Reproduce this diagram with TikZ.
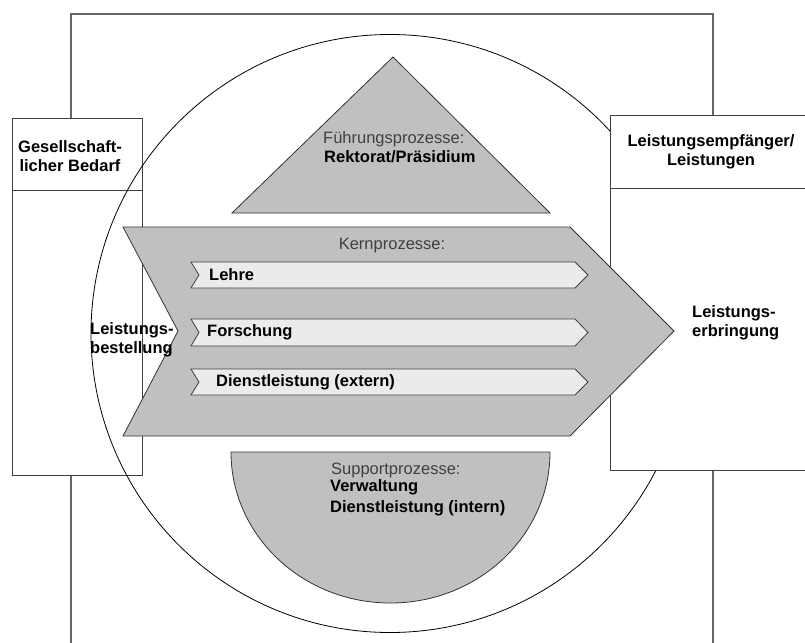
\documentclass[tikz,border=0pt]{standalone}
\usepackage{fontspec}
\setmainfont{Liberation Sans}
\definecolor{procgray}{RGB}{192,192,192}
\definecolor{barfill}{RGB}{235,235,235}
\begin{document}
\begin{tikzpicture}[x=1pt,y=-1pt,
  frame/.style={draw=black!60, line width=1.1pt},
  panel/.style={draw=black!75, line width=0.9pt, fill=white},
  ring/.style={draw=black, line width=0.8pt},
  proc/.style={draw=black!80, line width=0.8pt, fill=procgray},
  bar/.style={draw=black!75, line width=0.8pt, fill=barfill},
  bold/.style={font=\fontsize{16.5}{19}\selectfont\bfseries, inner sep=0pt},
  light/.style={font=\fontsize{16.5}{19}\selectfont, text=black!75, inner sep=0pt}]
\useasboundingbox (0,0) rectangle (805,642);
\clip (0,0) rectangle (805,642);

% outer frame (runs past the lower edge)
\draw[frame] (71,14) rectangle (713,660);

% left panel: demand
\draw[panel] (12,118) rectangle (142,475);
\draw[panel] (12,190) -- (142,190);

% university circle
\draw[ring] (390,333.5) circle[radius=299];

% right panel: recipients
\draw[panel] (610,115) rectangle (830,470);
\draw[panel] (610,188) -- (830,188);

% management triangle
\draw[proc] (393,57) -- (550,213) -- (232,213) -- cycle;

% core process chevron
\draw[proc] (123,227) -- (570,227) -- (674,331) -- (570,436) -- (123,436) -- (178,331) -- cycle;

% core process bars
\draw[bar] (191,262) -- (575,262) -- (588,275) -- (575,288) -- (191,288) -- (199,275) -- cycle;
\draw[bar] (191,319) -- (575,319) -- (588,332.5) -- (575,346) -- (191,346) -- (199,332.5) -- cycle;
\draw[bar] (191,369) -- (575,369) -- (588,382) -- (575,395) -- (191,395) -- (199,382) -- cycle;

% support half disc
\draw[proc] (231,452) -- (550,452) arc[start angle=0, end angle=180, x radius=159.5, y radius=151] -- cycle;

% labels
\node[bold, align=center] (demand) at (70,156) {Gesellschaft-\\licher Bedarf};
\node[bold, align=center] (recipients) at (711,152) {Leistungsempfänger/\\Leistungen};
\node[bold, align=left, anchor=west] (order) at (90,339.5) {Leistungs-\\bestellung};
\node[bold, align=left, anchor=west] (delivery) at (692,322.5) {Leistungs-\\erbringung};

\node[light, anchor=west] (mgmt) at (323,139) {Führungsprozesse:};
\node[bold, anchor=west] (rector) at (324,157) {Rektorat/Präsidium};

\node[light] (core) at (392,246) {Kernprozesse:};
\node[bold, anchor=west] (teach) at (209,275) {Lehre};
\node[bold, anchor=west] (research) at (207,332.5) {Forschung};
\node[bold, anchor=west] (service) at (216,382) {Dienstleistung (extern)};

\node[light, anchor=west] (support) at (331,470) {Supportprozesse:};
\node[bold, anchor=west] (admin) at (330,487) {Verwaltung};
\node[bold, anchor=west] (internal) at (330,508) {Dienstleistung (intern)};
\end{tikzpicture}
\end{document}
